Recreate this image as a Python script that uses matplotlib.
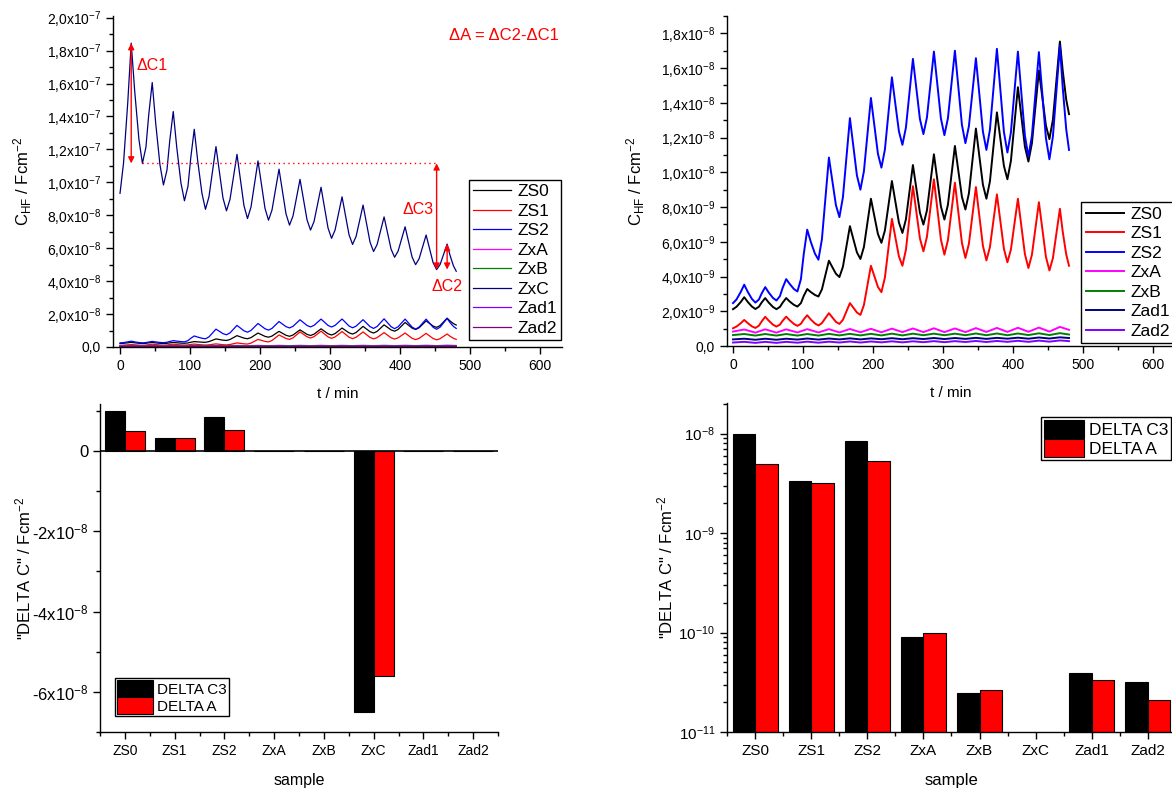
import numpy as np
import matplotlib
matplotlib.use("Agg")
import matplotlib.pyplot as plt
from matplotlib.ticker import FixedLocator, MultipleLocator, FuncFormatter, LogLocator, NullFormatter

plt.rcParams['font.family'] = ['Liberation Sans', 'DejaVu Sans']
plt.rcParams['mathtext.fontset'] = 'custom'
plt.rcParams['mathtext.rm'] = 'Liberation Sans'
plt.rcParams['mathtext.it'] = 'Liberation Sans:italic'
plt.rcParams['mathtext.bf'] = 'Liberation Sans:bold'

# coarse time grid (min) - extrema of the oscillations, used for the flat series
t_min = [0, 16, 32, 46, 62, 76, 92, 106, 122, 137, 152, 167, 182, 197, 212, 227,
         242, 257, 272, 287, 302, 317, 332, 347, 362, 377, 392, 407, 422, 437, 452, 467, 480]
# finer time grid (min) for the strongly oscillating series
t_fine = [0, 5, 11, 16, 21, 27, 32, 37, 41, 46, 51, 57, 62, 67, 71, 76, 81, 87, 92, 97, 101, 106,
          111, 117, 122, 127, 132, 137, 142, 147, 152, 157, 162, 167, 172, 177, 182, 187, 192, 197,
          202, 207, 212, 217, 222, 227, 232, 237, 242, 247, 252, 257, 262, 267, 272, 277, 282, 287,
          292, 297, 302, 307, 312, 317, 322, 327, 332, 337, 342, 347, 352, 357, 362, 367, 372, 377,
          382, 387, 392, 397, 402, 407, 412, 417, 422, 427, 432, 437, 442, 447, 452, 457, 462, 467,
          471, 476, 480]

# C_HF in units of 1e-9 F/cm2 (fine grid)
zs0 = [2.12, 2.26, 2.53, 2.81, 2.54, 2.27, 2.13, 2.26, 2.51, 2.76, 2.50, 2.25, 2.12, 2.25, 2.50, 2.76,
       2.56, 2.37, 2.27, 2.47, 2.88, 3.28, 3.11, 2.94, 2.85, 3.26, 4.09, 4.91, 4.53, 4.16, 3.97, 4.56,
       5.73, 6.90, 6.14, 5.39, 5.01, 5.70, 7.09, 8.48, 7.46, 6.45, 5.94, 6.65, 8.08, 9.50, 8.30, 7.11,
       6.51, 7.29, 8.86, 10.42, 9.05, 7.68, 6.99, 7.80, 9.42, 11.04, 9.54, 8.03, 7.28, 8.13, 9.82, 11.52,
       10.06, 8.59, 7.86, 8.79, 10.66, 12.52, 10.90, 9.29, 8.48, 9.47, 11.46, 13.45, 11.91, 10.37, 9.60,
       10.66, 12.78, 14.90, 13.19, 11.48, 10.62, 11.67, 13.76, 15.86, 14.28, 12.70, 11.91, 13.03, 15.28,
       17.53, 15.86, 14.19, 13.35]
zs1 = [1.02, 1.12, 1.31, 1.50, 1.32, 1.13, 1.04, 1.17, 1.42, 1.68, 1.46, 1.23, 1.12, 1.23, 1.46, 1.69,
       1.48, 1.27, 1.16, 1.28, 1.53, 1.77, 1.53, 1.30, 1.18, 1.32, 1.61, 1.89, 1.64, 1.39, 1.27, 1.51,
       1.99, 2.47, 2.20, 1.93, 1.79, 2.36, 3.49, 4.62, 4.01, 3.40, 3.10, 3.94, 5.63, 7.32, 6.24, 5.16,
       4.62, 5.54, 7.37, 9.20, 7.70, 6.20, 5.45, 6.28, 7.94, 9.60, 7.86, 6.13, 5.26, 6.09, 7.74, 9.40,
       7.67, 5.94, 5.07, 5.89, 7.52, 9.15, 7.46, 5.77, 4.93, 5.69, 7.21, 8.73, 7.17, 5.60, 4.82, 5.55,
       7.02, 8.48, 6.88, 5.29, 4.49, 5.25, 6.76, 8.28, 6.71, 5.14, 4.35, 5.06, 6.48, 7.90, 6.59, 5.28, 4.62]
zs2 = [2.47, 2.68, 3.11, 3.53, 3.12, 2.71, 2.50, 2.68, 3.03, 3.39, 3.08, 2.77, 2.62, 2.87, 3.36, 3.85,
       3.57, 3.28, 3.14, 3.85, 5.28, 6.70, 6.01, 5.32, 4.97, 6.15, 8.50, 10.85, 9.48, 8.11, 7.42, 8.56,
       10.84, 13.12, 11.47, 9.82, 9.00, 10.06, 12.17, 14.28, 12.68, 11.07, 10.27, 11.31, 13.39, 15.47,
       13.91, 12.36, 11.58, 12.57, 14.55, 16.53, 14.80, 13.07, 12.20, 13.15, 15.05, 16.95, 15.03, 13.10,
       12.14, 13.11, 15.06, 17.00, 14.87, 12.74, 11.68, 12.66, 14.61, 16.57, 14.46, 12.35, 11.29, 12.45,
       14.78, 17.11, 14.72, 12.33, 11.14, 12.30, 14.63, 16.95, 14.53, 12.11, 10.90, 12.10, 14.51, 16.92,
       14.45, 11.98, 10.75, 12.06, 14.68, 17.30, 14.90, 12.49, 11.29]
# C_HF in units of 1e-9 F/cm2 (coarse grid)
zxa = [0.83, 0.95, 0.77, 0.96, 0.77, 0.96, 0.78, 0.97, 0.78, 0.97, 0.78, 0.98, 0.79, 0.99, 0.79, 1.00,
       0.80, 1.01, 0.80, 1.02, 0.80, 1.01, 0.80, 1.03, 0.81, 1.04, 0.81, 1.05, 0.82, 1.06, 0.83, 1.10, 0.93]
zxb = [0.63, 0.69, 0.60, 0.69, 0.60, 0.69, 0.60, 0.69, 0.60, 0.70, 0.61, 0.70, 0.61, 0.70, 0.61, 0.71,
       0.61, 0.71, 0.62, 0.71, 0.62, 0.71, 0.62, 0.72, 0.62, 0.72, 0.62, 0.72, 0.63, 0.73, 0.63, 0.74, 0.66]
zad1 = [0.38, 0.42, 0.36, 0.42, 0.36, 0.42, 0.37, 0.43, 0.37, 0.43, 0.38, 0.44, 0.38, 0.44, 0.39, 0.45,
        0.39, 0.45, 0.40, 0.46, 0.40, 0.46, 0.41, 0.47, 0.41, 0.47, 0.42, 0.48, 0.42, 0.49, 0.43, 0.50, 0.46]
zad2 = [0.20, 0.24, 0.18, 0.24, 0.18, 0.24, 0.19, 0.25, 0.19, 0.25, 0.20, 0.26, 0.20, 0.26, 0.21, 0.27,
        0.21, 0.27, 0.22, 0.28, 0.22, 0.28, 0.23, 0.29, 0.23, 0.29, 0.24, 0.30, 0.24, 0.31, 0.25, 0.32, 0.28]
# ZxC in units of 1e-7 F/cm2 (fine grid)
zxc = [0.933, 1.115, 1.480, 1.845, 1.553, 1.261, 1.115, 1.213, 1.410, 1.606, 1.357, 1.108, 0.984, 1.073,
       1.252, 1.430, 1.213, 0.996, 0.888, 0.975, 1.148, 1.322, 1.128, 0.933, 0.836, 0.912, 1.065, 1.217,
       1.061, 0.905, 0.827, 0.896, 1.033, 1.170, 1.014, 0.858, 0.780, 0.850, 0.990, 1.130, 0.986, 0.842,
       0.770, 0.832, 0.956, 1.080, 0.944, 0.808, 0.740, 0.796, 0.907, 1.018, 0.895, 0.772, 0.710, 0.762,
       0.866, 0.970, 0.846, 0.722, 0.660, 0.710, 0.811, 0.912, 0.796, 0.681, 0.623, 0.671, 0.766, 0.862,
       0.749, 0.636, 0.580, 0.622, 0.706, 0.790, 0.692, 0.594, 0.545, 0.582, 0.656, 0.730, 0.638, 0.546,
       0.500, 0.536, 0.608, 0.680, 0.596, 0.512, 0.470, 0.501, 0.563, 0.625, 0.559, 0.493, 0.460]

samples = ['ZS0', 'ZS1', 'ZS2', 'ZxA', 'ZxB', 'ZxC', 'Zad1', 'Zad2']
delta_c3 = [1.00e-8, 3.33e-9, 8.40e-9, 9.06e-11, 2.47e-11, -6.49e-8, 3.88e-11, 3.18e-11]
delta_a = [5.00e-9, 3.16e-9, 5.30e-9, 1.00e-10, 2.64e-11, -5.60e-8, 3.36e-11, 2.11e-11]

tc = np.array(t_min)
tf = np.array(t_fine)
n9 = 1e-9
n7 = 1e-7

W, H = 1172, 789
fig = plt.figure(figsize=(W / 100, H / 100), dpi=100)


def box(l, r, top, bot):
    return [l / W, 1 - bot / H, (r - l) / W, (bot - top) / H]


def style(ax, fs):
    for s in ['top', 'right']:
        ax.spines[s].set_visible(False)
    for s in ['left', 'bottom']:
        ax.spines[s].set_linewidth(1.0)
    ax.tick_params(which='major', direction='out', length=5, width=1, labelsize=fs)
    ax.tick_params(which='minor', direction='out', length=3, width=1)


def comma_fmt(v, pos):
    if abs(v) < 1e-20:
        return '0,0'
    e = int(np.floor(np.log10(abs(v)) + 1e-9))
    m = v / 10 ** e
    return ('%.1f' % m).replace('.', ',') + r'x10$^{%d}$' % e


def int_fmt(v, pos):
    if abs(v) < 1e-20:
        return '0'
    e = int(np.floor(np.log10(abs(v)) + 1e-9))
    m = int(round(v / 10 ** e))
    return '%dx10$^{%d}$' % (m, e)


def legend(ax, anchor, loc, fs, **kw):
    leg = ax.legend(loc=loc, bbox_to_anchor=anchor, fontsize=fs, frameon=True, fancybox=False,
                    edgecolor='black', framealpha=1, borderaxespad=0, **kw)
    leg.get_frame().set_linewidth(1.0)
    return leg


# ---------- top left ----------
ax1 = fig.add_axes(box(113, 562, 16, 347))
ax1.plot(tf, np.array(zs0) * n9, color='black', lw=0.9, label='ZS0')
ax1.plot(tf, np.array(zs1) * n9, color='#ff0000', lw=0.9, label='ZS1')
ax1.plot(tf, np.array(zs2) * n9, color='#0000ff', lw=0.9, label='ZS2')
ax1.plot(tc, np.array(zxa) * n9, color='#ff00ff', lw=0.9, label='ZxA')
ax1.plot(tc, np.array(zxb) * n9, color='#008000', lw=0.9, label='ZxB')
ax1.plot(tf, np.array(zxc) * n7, color='#000080', lw=0.9, label='ZxC')
ax1.plot(tc, np.array(zad1) * n9, color='#8000ff', lw=0.9, label='Zad1')
ax1.plot(tc, np.array(zad2) * n9, color='#800080', lw=0.9, label='Zad2')
ax1.set_xlim(-10, 631)
ax1.set_ylim(0, 2.01e-7)
ax1.xaxis.set_major_locator(MultipleLocator(100))
ax1.xaxis.set_minor_locator(MultipleLocator(50))
ax1.yaxis.set_major_locator(FixedLocator([k * 2e-8 for k in range(11)]))
ax1.yaxis.set_minor_locator(FixedLocator([(2 * k + 1) * 1e-8 for k in range(10)]))
ax1.yaxis.set_major_formatter(FuncFormatter(comma_fmt))
style(ax1, 10)
ax1.set_xlabel('t / min', fontsize=11, labelpad=10)
ax1.set_ylabel(r'C$_{\mathrm{HF}}$ / Fcm$^{-2}$', fontsize=12, labelpad=9)
legend(ax1, (0.998, 0.021), 'lower right', 12.5, borderpad=0.25, labelspacing=0.25,
       handlelength=2.2, handletextpad=0.35)

# annotations built from the ZxC series
arr = dict(arrowstyle='<|-|>', color='red', lw=1, shrinkA=0, shrinkB=0, mutation_scale=9)
zc = np.array(zxc) * n7
ax1.annotate('', xy=(tf[3], zc[3]), xytext=(tf[3], zc[6]), arrowprops=arr)
ax1.plot([tf[6], tf[90]], [zc[6], zc[6]], ls=(0, (1, 2.5)), color='red', lw=1)
ax1.annotate('', xy=(tf[90], zc[6]), xytext=(tf[90], zc[90]), arrowprops=arr)
ax1.annotate('', xy=(tf[93], zc[93]), xytext=(tf[93], zc[90]), arrowprops=arr)
ax1.text(24, 1.71e-7, '\u0394C1', color='red', fontsize=11.5, ha='left', va='center')
ax1.text(448, 0.836e-7, '\u0394C3', color='red', fontsize=11.5, ha='right', va='center')
ax1.text(467, 0.37e-7, '\u0394C2', color='red', fontsize=11.5, ha='center', va='center')
ax1.text(0.993, 0.94, '\u0394A = \u0394C2-\u0394C1', color='red', fontsize=12, ha='right', va='center',
         transform=ax1.transAxes)

# ---------- top right ----------
ax2 = fig.add_axes(box(727, 1174, 16, 346))
ax2.plot(tf, np.array(zs0) * n9, color='black', lw=1.4, label='ZS0')
ax2.plot(tf, np.array(zs1) * n9, color='#ff0000', lw=1.4, label='ZS1')
ax2.plot(tf, np.array(zs2) * n9, color='#0000ff', lw=1.4, label='ZS2')
ax2.plot(tc, np.array(zxa) * n9, color='#ff00ff', lw=1.4, label='ZxA')
ax2.plot(tc, np.array(zxb) * n9, color='#008000', lw=1.4, label='ZxB')
ax2.plot(tc, np.array(zad1) * n9, color='#000080', lw=1.4, label='Zad1')
ax2.plot(tc, np.array(zad2) * n9, color='#8000ff', lw=1.4, label='Zad2')
ax2.set_xlim(-8.6, 630)
ax2.set_ylim(0, 1.9e-8)
ax2.xaxis.set_major_locator(MultipleLocator(100))
ax2.xaxis.set_minor_locator(MultipleLocator(50))
ax2.yaxis.set_major_locator(FixedLocator([k * 2e-9 for k in range(10)]))
ax2.yaxis.set_minor_locator(FixedLocator([(2 * k + 1) * 1e-9 for k in range(10)]))
ax2.yaxis.set_major_formatter(FuncFormatter(comma_fmt))
style(ax2, 10)
ax2.set_xlabel('t / min', fontsize=11, labelpad=10)
ax2.set_ylabel(r'C$_{\mathrm{HF}}$ / Fcm$^{-2}$', fontsize=12, labelpad=10)
legend(ax2, (1.0, 0.009), 'lower right', 12.5, borderpad=0.25, labelspacing=0.25,
       handlelength=2.2, handletextpad=0.35)

# ---------- bottom left ----------
x = np.arange(1, len(samples) + 1)
ax3 = fig.add_axes(box(100, 498, 404, 732))
ax3.bar(x - 0.2, delta_c3, 0.4, color='black', edgecolor='black', lw=0.8, label='DELTA C3')
ax3.bar(x + 0.2, delta_a, 0.4, color='#ff0000', edgecolor='black', lw=0.8, label='DELTA A')
ax3.axhline(0, color='black', lw=1.2)
ax3.set_xlim(0.5, 8.5)
ax3.set_ylim(-7e-8, 1.17e-8)
ax3.set_xticks(x)
ax3.set_xticklabels(samples)
ax3.xaxis.set_minor_locator(FixedLocator(np.arange(0.5, 8.6, 1.0)))
ax3.yaxis.set_major_locator(FixedLocator([-6e-8, -4e-8, -2e-8, 0]))
ax3.yaxis.set_minor_locator(FixedLocator([-7e-8, -5e-8, -3e-8, -1e-8, 1e-8]))
ax3.yaxis.set_major_formatter(FuncFormatter(int_fmt))
style(ax3, 12)
ax3.tick_params(axis='x', labelsize=10)
ax3.set_xlabel('sample', fontsize=11.5, labelpad=11)
ax3.set_ylabel('"DELTA C" / Fcm$^{-2}$', fontsize=12, labelpad=-1)
legend(ax3, (0.038, 0.049), 'lower left', 11, borderpad=0.15, labelspacing=0.05,
       handlelength=2.3, handleheight=1.25, handletextpad=0.3)

# ---------- bottom right ----------
c3 = np.array(delta_c3)
da = np.array(delta_a)
ax4 = fig.add_axes(box(727, 1176, 403, 732))
ax4.set_yscale('log')
m3 = c3 > 0
ma = da > 0
ax4.bar(x[m3] - 0.2, c3[m3], 0.4, color='black', edgecolor='black', lw=0.8, label='DELTA C3')
ax4.bar(x[ma] + 0.2, da[ma], 0.4, color='#ff0000', edgecolor='black', lw=0.8, label='DELTA A')
ax4.set_xlim(0.5, 8.5)
ax4.set_ylim(1e-11, 2.03e-8)
ax4.set_xticks(x)
ax4.set_xticklabels(samples)
ax4.xaxis.set_minor_locator(FixedLocator(np.arange(0.5, 8.6, 1.0)))
ax4.yaxis.set_major_locator(FixedLocator([1e-11, 1e-10, 1e-9, 1e-8]))
ax4.yaxis.set_minor_locator(LogLocator(base=10, subs=np.arange(2, 10), numticks=20))
ax4.yaxis.set_minor_formatter(NullFormatter())
ax4.yaxis.set_major_formatter(FuncFormatter(lambda v, p: r'10$^{%d}$' % int(round(np.log10(v)))))
style(ax4, 11)
ax4.tick_params(axis='x', labelsize=11)
ax4.set_xlabel('sample', fontsize=12, labelpad=11)
ax4.set_ylabel('"DELTA C" / Fcm$^{-2}$', fontsize=12, labelpad=2)
legend(ax4, (0.989, 0.957), 'upper right', 12.5, borderpad=0.15, labelspacing=0.05,
       handlelength=2.3, handleheight=1.25, handletextpad=0.3)

fig.savefig('out.png', dpi=100)
